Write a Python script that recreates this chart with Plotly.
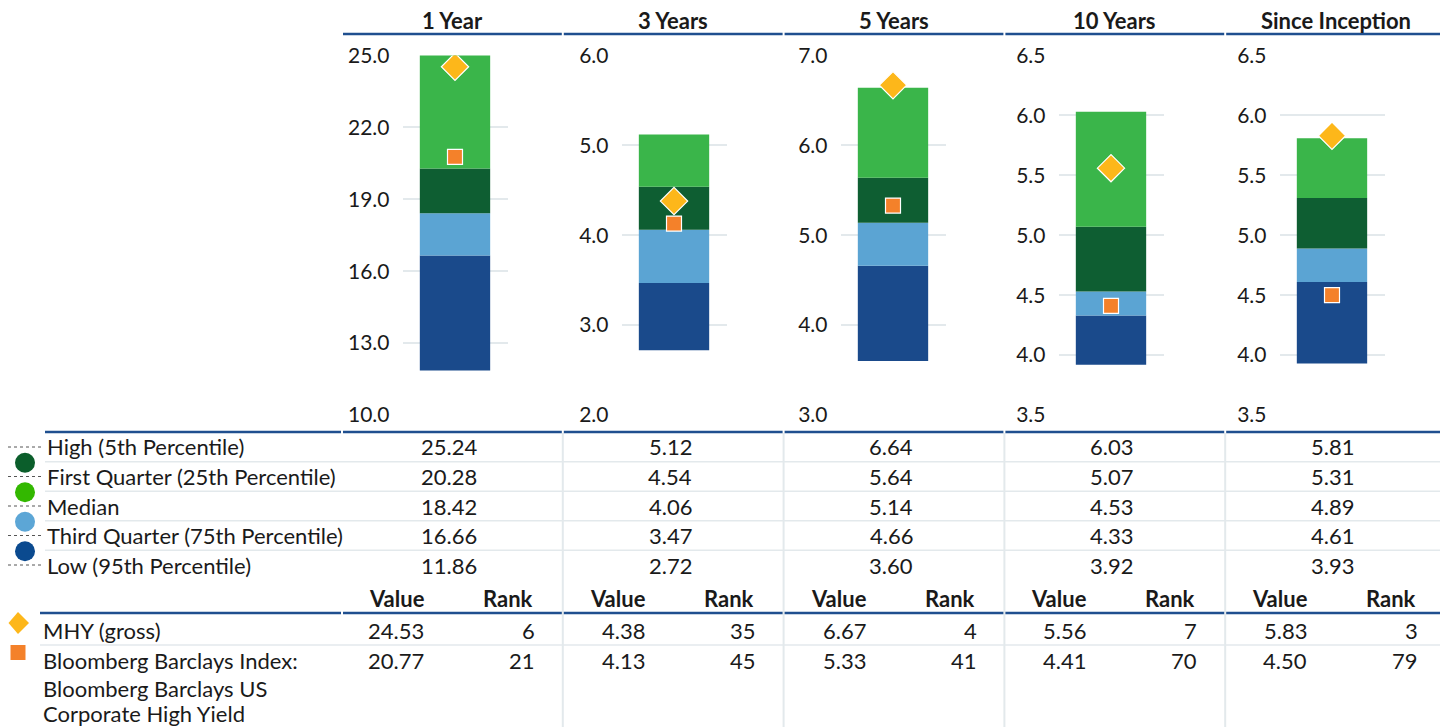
import plotly.graph_objects as go

# ---------------- data ----------------
periods = ["1 Year", "3 Years", "5 Years", "10 Years", "Since Inception"]
high = [25.24, 5.12, 6.64, 6.03, 5.81]
q1 = [20.28, 4.54, 5.64, 5.07, 5.31]
median = [18.42, 4.06, 5.14, 4.53, 4.89]
q3 = [16.66, 3.47, 4.66, 4.33, 4.61]
low = [11.86, 2.72, 3.60, 3.92, 3.93]
mhy_value = [24.53, 4.38, 6.67, 5.56, 5.83]
mhy_rank = [6, 35, 4, 7, 3]
bb_value = [20.77, 4.13, 5.33, 4.41, 4.50]
bb_rank = [21, 45, 41, 70, 79]
y_ranges = [[10, 25], [2, 6], [3, 7], [3.5, 6.5], [3.5, 6.5]]
y_dticks = [3, 1, 1, 0.5, 0.5]
row_labels = ["High (5th Percentile)", "First Quarter (25th Percentile)", "Median",
              "Third Quarter (75th Percentile)", "Low (95th Percentile)"]
mhy_label = "MHY (gross)"
bb_label = ["Bloomberg Barclays Index:", "Bloomberg Barclays US", "Corporate High Yield"]

# ---------------- styling ----------------
# page body has an 8px margin: the figure starts at (8, 8) in the window
OFF = 8
W, H = 1448 - OFF, 727 - OFF
FONT = "Lato, 'Open Sans', sans-serif"
FS = 22
FS_TICK = 21
TXT = "#1a1a1a"
BLUE_LINE = "#1f4f8f"
GRAY_LINE = "#e3e9ec"
C_TOP = "#3ab54a"
C_Q1 = "#0e5e32"
C_MED = "#5ba4d3"
C_LOW = "#1a4a8b"
C_DIAMOND = "#fdb71a"
C_SQUARE = "#f4812a"
LEG_COLORS = ["#0b5e2b", "#33b800", "#5ca6d6", "#0b4a8f"]

def fx(p):
    return (p - OFF) / W

def fy(p):
    return 1 - (p - OFF) / H

centers = [455, 674, 893, 1111, 1332]
half = 52.5
col_left = [342 + i * 220.8 for i in range(5)]
col_w = 220.8

fig = go.Figure()
layout_axes = {}
for i, name in enumerate(periods):
    n = "" if i == 0 else str(i + 1)
    xa, ya = "x" + n, "y" + n
    segs = [
        (low[i], q3[i] - low[i], C_LOW),
        (q3[i], median[i] - q3[i], C_MED),
        (median[i], q1[i] - median[i], C_Q1),
        (q1[i], high[i] - q1[i], C_TOP),
    ]
    for base, val, col in segs:
        fig.add_trace(go.Bar(x=[name], y=[val], base=[base], width=0.67,
                             marker=dict(color=col, line=dict(width=0)),
                             xaxis=xa, yaxis=ya, showlegend=False, hoverinfo="skip"))
    fig.add_trace(go.Scatter(x=[name], y=[mhy_value[i]], mode="markers",
                             marker=dict(symbol="diamond", size=21, color=C_DIAMOND,
                                         line=dict(color="white", width=1.2)),
                             xaxis=xa, yaxis=ya, showlegend=False))
    fig.add_trace(go.Scatter(x=[name], y=[bb_value[i]], mode="markers",
                             marker=dict(symbol="square", size=15, color=C_SQUARE,
                                         line=dict(color="white", width=1.2)),
                             xaxis=xa, yaxis=ya, showlegend=False))
    xkey = "xaxis" + n
    ykey = "yaxis" + n
    layout_axes[xkey] = dict(domain=[fx(centers[i] - half), fx(centers[i] + half)],
                             anchor=ya, range=[-0.5, 0.5], showticklabels=False,
                             showgrid=False, zeroline=False, showline=False,
                             fixedrange=True, automargin=False, ticks="")
    layout_axes[ykey] = dict(domain=[fy(415), fy(55.5)], anchor=xa,
                             range=y_ranges[i], dtick=y_dticks[i], tick0=y_ranges[i][0],
                             tickformat=".1f", showgrid=True, gridcolor=GRAY_LINE,
                             gridwidth=2, zeroline=False, showline=False, ticks="",
                             ticklabelstandoff=12, automargin=False,
                             tickfont=dict(family=FONT, size=FS_TICK, color=TXT))

shapes = []
annotations = []

def hline(x0, x1, y, color, width, dash=None):
    d = dict(type="line", xref="paper", yref="paper", x0=fx(x0), x1=fx(x1),
             y0=fy(y), y1=fy(y), line=dict(color=color, width=width))
    if dash:
        d["line"]["dash"] = dash
    shapes.append(d)

def text(x, y, s, anchor="left", bold=False, size=FS):
    annotations.append(dict(xref="paper", yref="paper", x=fx(x), y=fy(y),
                            text=f"<b>{s}</b>" if bold else s, showarrow=False,
                            xanchor=anchor, yanchor="middle", borderpad=0,
                            font=dict(family=FONT, size=size, color=TXT)))

# column separators
for i in range(1, 5):
    x = col_left[i]
    shapes.append(dict(type="line", xref="paper", yref="paper", x0=fx(x), x1=fx(x),
                       y0=fy(433), y1=0, line=dict(color=GRAY_LINE, width=2)))

# header titles & blue line
for i, name in enumerate(periods):
    text(col_left[i] + col_w / 2, 20, name, anchor="center", bold=True)
    hline(col_left[i] + 1, col_left[i] + col_w - 1, 34, BLUE_LINE, 2.5)

# distribution table
row_y = [447, 476.5, 506, 535.5, 565]
hline(45, col_left[0] - 1, 432, BLUE_LINE, 2.5)
for i in range(5):
    hline(col_left[i] + 1, col_left[i] + col_w - 1, 432, BLUE_LINE, 2.5)
for k in range(4):
    hline(45, 1446, (row_y[k] + row_y[k + 1]) / 2, GRAY_LINE, 1.5)
dist_rows = [high, q1, median, q3, low]
for r, lab in enumerate(row_labels):
    text(46, row_y[r], lab)
    hline(OFF, 42, row_y[r], "#555555", 1, dash="dot")
    for i in range(5):
        text(col_left[i] + col_w / 2 - 3, row_y[r], f"{dist_rows[r][i]:.2f}", anchor="center")

# legend circles
for k, c in enumerate(LEG_COLORS):
    cy = (row_y[k] + row_y[k + 1]) / 2 + 1
    shapes.append(dict(type="circle", xref="paper", yref="paper",
                       x0=fx(15), x1=fx(35), y0=fy(cy + 10), y1=fy(cy - 10),
                       fillcolor=c, line=dict(width=0)))

# Value / Rank header
for i in range(5):
    text(col_left[i] + 84, 598, "Value", anchor="right", bold=True)
    text(col_left[i] + 192, 598, "Rank", anchor="right", bold=True)

hline(40, col_left[0] - 1, 613, BLUE_LINE, 2.5)
for i in range(5):
    hline(col_left[i] + 1, col_left[i] + col_w - 1, 613, BLUE_LINE, 2.5)
hline(40, 1446, 645, GRAY_LINE, 1.5)

text(42, 630, mhy_label)
bb_line_y = [660, 688, 713]
for j, s in enumerate(bb_label):
    text(42, bb_line_y[j], s)
for i in range(5):
    text(col_left[i] + 83, 630, f"{mhy_value[i]:.2f}", anchor="right")
    text(col_left[i] + 194, 630, f"{mhy_rank[i]}", anchor="right")
    text(col_left[i] + 83, 660, f"{bb_value[i]:.2f}", anchor="right")
    text(col_left[i] + 194, 660, f"{bb_rank[i]}", anchor="right")

# legend marker symbols (diamond, square)
shapes.append(dict(type="path", xref="paper", yref="paper",
                   path=f"M {fx(18)} {fy(612)} L {fx(29)} {fy(623)} L {fx(18)} {fy(634)} L {fx(8.5)} {fy(623)} Z",
                   fillcolor=C_DIAMOND, line=dict(width=0)))
shapes.append(dict(type="rect", xref="paper", yref="paper",
                   x0=fx(10.5), x1=fx(25.5), y0=fy(660), y1=fy(645),
                   fillcolor=C_SQUARE, line=dict(width=0)))

fig.update_layout(width=W, height=H, margin=dict(l=0, r=0, t=0, b=0, pad=0),
                  autosize=False, template="none",
                  paper_bgcolor="white", plot_bgcolor="white",
                  barmode="overlay", shapes=shapes, annotations=annotations,
                  font=dict(family=FONT, size=FS, color=TXT), **layout_axes)

fig.write_html("out.html")
